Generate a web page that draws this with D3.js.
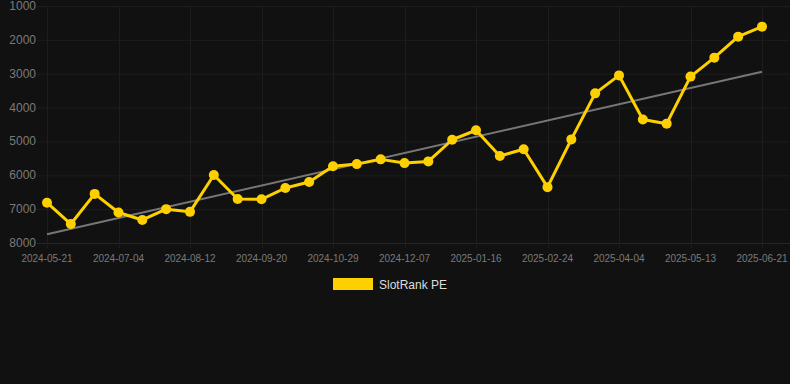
<!DOCTYPE html>
<html>
<head>
<meta charset="utf-8">
<script src="https://cdn.jsdelivr.net/npm/d3@7"></script>
<style>
  html, body { margin: 0; padding: 0; background: #111111; }
  svg { display: block; font-family: "Liberation Sans", Arial, sans-serif; }
</style>
</head>
<body>
<svg id="chart" width="790" height="384"></svg>
<script>
// dates shown on the category axis (every 3rd is labelled)
const dates = [
  '2024-05-21', '2024-06-05', '2024-06-19', '2024-07-04', '2024-07-17', '2024-07-30',
  '2024-08-12', '2024-08-25', '2024-09-07', '2024-09-20', '2024-10-03', '2024-10-16',
  '2024-10-29', '2024-11-11', '2024-11-24', '2024-12-07', '2024-12-20', '2025-01-03',
  '2025-01-16', '2025-01-29', '2025-02-11', '2025-02-24', '2025-03-09', '2025-03-22',
  '2025-04-04', '2025-04-17', '2025-04-30', '2025-05-13', '2025-05-26', '2025-06-08',
  '2025-06-21'
]
// rank values (lower is better, axis is reversed)
const rankPE = [
  6810, 7440, 6550, 7100, 7320, 7000, 7080, 5990, 6700, 6710, 6375,
  6200, 5735, 5670, 5530, 5640, 5590, 4950, 4670, 5430, 5230, 6350,
  4940, 3580, 3050, 4350, 4475, 3085, 2525, 1905, 1610
]
const yTicks = [1000, 2000, 3000, 4000, 5000, 6000, 7000, 8000]
const seriesName = 'SlotRank PE'

const yellow = '#ffd000',
  gridColor = '#1d1d1d',
  textColor = '#7a7a7a'

const svg = d3.select('#chart')

const x = d3.scalePoint().domain(dates).range([47, 762])
const y = d3.scaleLinear().domain([1000, 8000]).range([6, 243])

// horizontal grid
svg.append('g')
  .selectAll('line')
  .data(yTicks)
  .join('line')
  .attr('x1', 37)
  .attr('x2', 790)
  .attr('y1', d => y(d) + 0.5)
  .attr('y2', d => y(d) + 0.5)
  .attr('stroke', d => d === 8000 ? '#262626' : gridColor)

// vertical grid at labelled ticks
const shown = dates.filter((d, i) => i % 3 === 0)
svg.append('g')
  .selectAll('line')
  .data(shown)
  .join('line')
  .attr('x1', d => Math.round(x(d)) + 0.5)
  .attr('x2', d => Math.round(x(d)) + 0.5)
  .attr('y1', y(1000))
  .attr('y2', y(8000) + 5)
  .attr('stroke', gridColor)

// y labels
svg.append('g')
  .selectAll('text')
  .data(yTicks)
  .join('text')
  .attr('x', 36)
  .attr('y', d => y(d) + 4)
  .attr('text-anchor', 'end')
  .attr('font-size', 12)
  .attr('fill', textColor)
  .text(d => d)

// x labels
svg.append('g')
  .selectAll('text')
  .data(shown)
  .join('text')
  .attr('x', d => x(d))
  .attr('y', 262)
  .attr('text-anchor', 'middle')
  .attr('font-size', 10)
  .attr('fill', textColor)
  .text(d => d)

// linear trend (least squares over the series)
const n = rankPE.length,
  idx = d3.range(n),
  mx = d3.mean(idx),
  my = d3.mean(rankPE),
  slope = d3.sum(idx, i => (i - mx) * (rankPE[i] - my)) / d3.sum(idx, i => (i - mx) ** 2),
  icpt = my - slope * mx

svg.append('line')
  .attr('x1', x(dates[0]))
  .attr('y1', y(icpt))
  .attr('x2', x(dates[n - 1]))
  .attr('y2', y(icpt + slope * (n - 1)))
  .attr('stroke', '#777777')
  .attr('stroke-width', 2)

// series line
const line = d3.line()
  .x((d, i) => x(dates[i]))
  .y(d => y(d))

svg.append('path')
  .datum(rankPE)
  .attr('d', line)
  .attr('fill', 'none')
  .attr('stroke', yellow)
  .attr('stroke-width', 3)
  .attr('stroke-linejoin', 'round')

svg.append('g')
  .selectAll('circle')
  .data(rankPE)
  .join('circle')
  .attr('cx', (d, i) => x(dates[i]))
  .attr('cy', d => y(d))
  .attr('r', 5)
  .attr('fill', yellow)

// legend
const legend = svg.append('g').attr('transform', 'translate(333,278)')
legend.append('rect')
  .attr('width', 40)
  .attr('height', 12)
  .attr('fill', yellow)
legend.append('text')
  .attr('x', 46)
  .attr('y', 10.5)
  .attr('font-size', 12)
  .attr('fill', '#dddddd')
  .text(seriesName)
</script>
</body>
</html>
